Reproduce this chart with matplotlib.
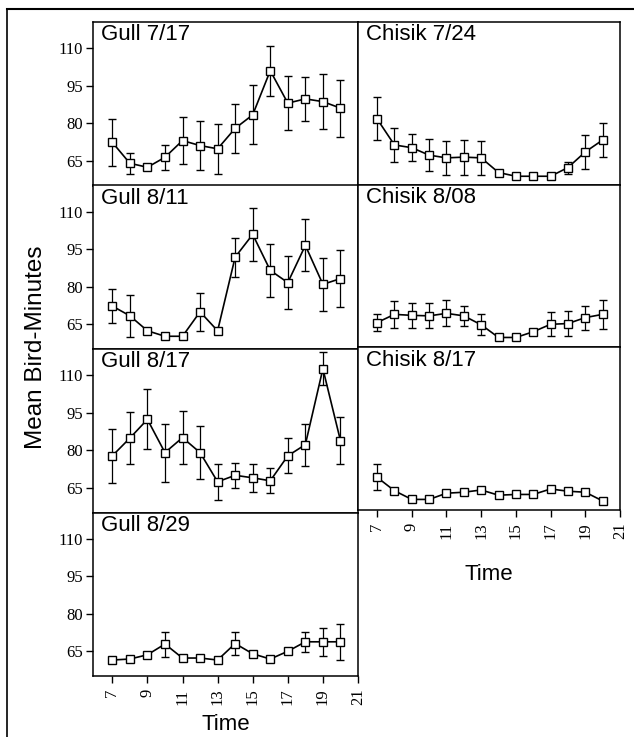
import matplotlib
matplotlib.use("Agg")
import matplotlib.pyplot as plt
from matplotlib.lines import Line2D

# heures d'observation
hours = [7, 8, 9, 10, 11, 12, 13, 14, 15, 16, 17, 18, 19, 20]
xticks = [7, 9, 11, 13, 15, 17, 19, 21]
yticks = [65, 80, 95, 110]

gull_0717 = [72.3, 63.9, 62.3, 66.3, 73.0, 71.0, 69.7, 77.9, 83.3, 101.0, 88.0, 89.7, 88.6, 86.0]
gull_0717_err = [9.5, 4.2, 0, 4.9, 9.5, 9.7, 10.1, 9.7, 11.8, 10.0, 10.7, 8.9, 11.0, 11.4]

gull_0811 = [72.2, 68.3, 62.3, 60.1, 60.1, 69.9, 62.3, 91.8, 100.9, 86.5, 81.6, 96.5, 80.9, 83.2]
gull_0811_err = [6.7, 8.5, 0, 0, 0, 7.6, 0, 7.8, 10.6, 10.7, 10.7, 10.4, 10.7, 11.4]

gull_0817 = [77.7, 84.8, 92.3, 79.0, 85.0, 79.0, 67.3, 69.9, 68.9, 67.7, 77.7, 82.2, 112.6, 83.8]
gull_0817_err = [10.7, 10.3, 12.0, 11.6, 10.7, 10.7, 7.1, 5.0, 5.6, 5.0, 7.0, 8.4, 6.5, 9.5]

gull_0829 = [61.4, 61.8, 63.5, 67.8, 62.2, 62.2, 61.4, 68.0, 63.9, 61.8, 64.9, 68.7, 68.7, 68.7]
gull_0829_err = [0, 0, 0, 5.0, 0, 0, 0, 4.5, 0, 0, 0, 4.0, 5.6, 7.3]

chisik_0724 = [81.5, 71.0, 69.9, 66.9, 65.8, 66.1, 65.8, 59.9, 58.4, 58.4, 58.4, 61.9, 68.2, 73.0]
chisik_0724_err = [8.7, 7.0, 5.5, 6.3, 6.7, 7.0, 6.7, 0, 0, 0, 0, 2.4, 6.7, 7.0]

chisik_0808 = [65.0, 68.3, 67.9, 67.7, 68.7, 67.7, 64.1, 59.0, 59.0, 61.3, 64.3, 64.6, 67.0, 68.3]
chisik_0808_err = [3.3, 5.3, 5.0, 5.0, 5.2, 4.1, 4.3, 0, 0, 0, 4.9, 5.0, 4.8, 5.7]

chisik_0817 = [68.2, 62.8, 59.3, 59.3, 61.8, 62.2, 63.1, 61.0, 61.3, 61.3, 63.5, 62.6, 62.2, 58.7]
chisik_0817_err = [5.2, 0, 0, 0, 0, 0, 0, 0, 0, 0, 0, 0, 0, 0]

W, H = 634, 737
fig = plt.figure(figsize=(W / 100, H / 100), dpi=100)

sans = "Liberation Sans"
serif = "Liberation Serif"


def panel(x0, y0, w, h):
    # coordonnées en pixels depuis le haut
    return fig.add_axes([x0 / W, 1 - (y0 + h) / H, w / W, h / H])


def draw(ax, vals, errs, title, left_labels, bottom_labels, lpad=6):
    ax.errorbar(hours, vals, yerr=errs, color="black", lw=1.2, elinewidth=0.9,
                capsize=3.2, capthick=0.9, marker="s", ms=5.6, mfc="white",
                mec="black", mew=1.0)
    ax.set_xlim(5.9, 21)
    ax.set_ylim(55, 120.5)
    ax.text(0.03, 0.985, title, transform=ax.transAxes, va="top", ha="left",
            fontsize=16, family=sans)
    for s in ax.spines.values():
        s.set_linewidth(1.1)
    ax.set_yticks(yticks)
    ax.set_xticks(xticks)
    if left_labels:
        ax.tick_params(axis="y", direction="out", length=5, width=1, pad=2)
        ax.set_yticklabels([str(v) for v in yticks], family=serif, fontsize=12)
    else:
        ax.tick_params(axis="y", length=0, labelleft=False)
    if bottom_labels:
        ax.tick_params(axis="x", direction="out", length=5, width=1, pad=4)
        ax.set_xticklabels([str(v) for v in xticks], family=serif, fontsize=12,
                           rotation=90)
        ax.set_xlabel("Time", family=sans, fontsize=16, labelpad=lpad)
    else:
        ax.tick_params(axis="x", length=0, labelbottom=False)


ph = 163.5
top = 22
lx, lw = 93, 265
rx, rw = 358, 262

left = [(gull_0717, gull_0717_err, "Gull 7/17"),
        (gull_0811, gull_0811_err, "Gull 8/11"),
        (gull_0817, gull_0817_err, "Gull 8/17"),
        (gull_0829, gull_0829_err, "Gull 8/29")]
right = [(chisik_0724, chisik_0724_err, "Chisik 7/24"),
         (chisik_0808, chisik_0808_err, "Chisik 8/08"),
         (chisik_0817, chisik_0817_err, "Chisik 8/17")]

for i, (v, e, t) in enumerate(left):
    ax = panel(lx, top + i * ph, lw, ph)
    draw(ax, v, e, t, True, i == len(left) - 1)

rh = 162.7
for i, (v, e, t) in enumerate(right):
    ax = panel(rx, top + i * rh, rw, rh)
    draw(ax, v, e, t, False, i == len(right) - 1, lpad=18)

fig.text(36 / W, 1 - 347 / H, "Mean Bird-Minutes", rotation=90, ha="center",
         va="center", fontsize=17.5, family=sans)

# cadre extérieur (haut et gauche)
fig.add_artist(Line2D([7 / W, 7 / W], [0, 1 - 9 / H], color="black", lw=1.2,
                      transform=fig.transFigure))
fig.add_artist(Line2D([7 / W, 1], [1 - 9 / H, 1 - 9 / H], color="black", lw=1.5,
                      transform=fig.transFigure))

fig.savefig("out.png", dpi=100)
